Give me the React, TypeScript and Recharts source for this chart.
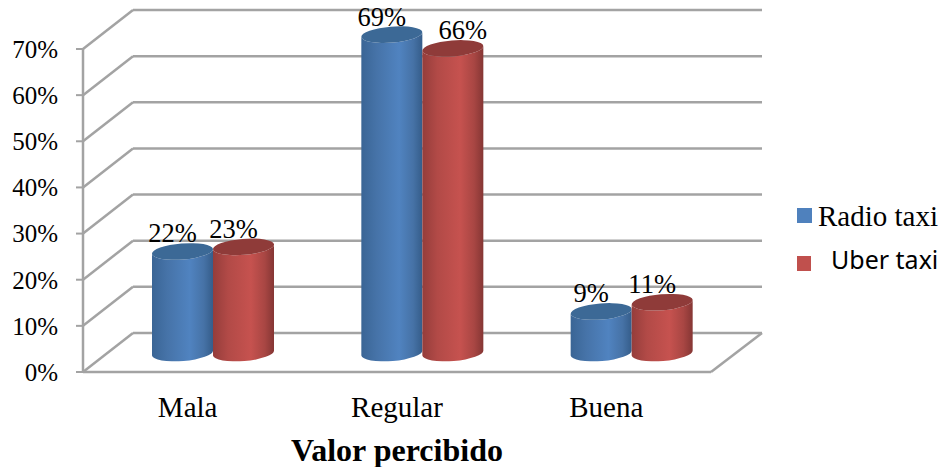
import { Bar, BarChart, CartesianGrid, LabelList, Legend, XAxis, YAxis } from "recharts"

const categories = ["Mala", "Regular", "Buena"]
const radioTaxi = [22, 69, 9]
const uberTaxi = [23, 66, 11]
const yTicks = [0, 10, 20, 30, 40, 50, 60, 70]

const data = categories.map((name, i) => ({ name, radio: radioTaxi[i], uber: uberTaxi[i] }))

const SERIF = "'Liberation Serif', serif"
const GRID = "#a3a3a3"

// fake 3d: everything stands on the middle of the floor, back wall is further up and right
const WALL_DX = 50
const WALL_DY = 39
const BAR_DX = 25
const BAR_DY = 19
const RY = 8
const TILT = 2.5

function gridLine(props: any) {
  const { x1, x2, y1 } = props
  const backY = y1 - WALL_DY
  return (
    <g key={props.key ?? y1}>
      <line x1={x1} y1={y1} x2={x1 + WALL_DX} y2={backY} stroke={GRID} strokeWidth={2.5} />
      <line x1={x1 + WALL_DX} y1={backY} x2={x2 + WALL_DX + 1} y2={backY} stroke={GRID} strokeWidth={2.5} />
      {y1 > 370 && (
        <line x1={x2} y1={y1} x2={x2 + WALL_DX + 1} y2={backY} stroke={GRID} strokeWidth={2.5} />
      )}
    </g>
  )
}

function Cylinder(props: any) {
  const { x, y, width, height, dataKey } = props
  const rx = width / 2
  const left = x + BAR_DX
  const right = left + width
  const top = y - BAR_DY
  const bottom = y + height - BAR_DY
  const rot = -4.5
  const body = `M${left},${top + TILT} L${left},${bottom + TILT} A${rx},${RY} ${rot} 0 0 ${right},${bottom - TILT} L${right},${top - TILT} A${rx},${RY} ${rot} 0 1 ${left},${top + TILT} Z`
  const lid = `M${left},${top + TILT} A${rx},${RY} ${rot} 1 1 ${right},${top - TILT} A${rx},${RY} ${rot} 1 1 ${left},${top + TILT} Z`
  return (
    <g>
      <path d={body} fill={`url(#body-${dataKey})`} />
      <path d={lid} fill={dataKey === "radio" ? "#3c6996" : "#8f3b39"} />
    </g>
  )
}

function ValueLabel(props: any) {
  const { x, y, width, value } = props
  // the 66% label sits to the right of its bar in the original
  const dx = value === 66 ? 10 : -10
  return (
    <text
      x={x + BAR_DX + width / 2 + dx}
      y={y - BAR_DY - 18}
      textAnchor="middle"
      dominantBaseline="central"
      fontFamily={SERIF}
      fontSize={26.5}
      fill="#000"
    >
      {value}%
    </text>
  )
}

function LegendBox({ payload }: any) {
  return (
    <div style={{ position: "relative", width: 944, height: 467, pointerEvents: "none" }}>
      {(payload || []).map((item: any, i: number) => (
        <div key={item.value}>
          <div
            style={{
              position: "absolute",
              left: 797,
              top: i === 0 ? 208 : 256,
              width: i === 0 ? 15 : 14,
              height: 15,
              background: item.color,
            }}
          />
          <div
            style={{
              position: "absolute",
              left: i === 0 ? 818 : 831,
              top: i === 0 ? 199 : 242,
              lineHeight: "34px",
              whiteSpace: "nowrap",
              color: "#000",
              fontFamily: i === 0 ? SERIF : "'Noto Sans', sans-serif",
              fontSize: i === 0 ? 29 : 25,
            }}
          >
            {item.value}
          </div>
        </div>
      ))}
    </div>
  )
}

export default function App() {
  return (
    <div style={{ position: "absolute", left: 0, top: 0, width: 944, height: 467, background: "#fff" }}>
      <BarChart
        width={944}
        height={467}
        data={data}
        margin={{ top: 49, right: 233, bottom: 0, left: 0 }}
        barSize={61}
        barGap={0}
        style={{ overflow: "visible" }}
      >
        <defs>
          <linearGradient id="body-radio" x1="0" y1="0" x2="1" y2="0">
            <stop offset="0%" stopColor="#3a6595" />
            <stop offset="25%" stopColor="#4673a8" />
            <stop offset="62%" stopColor="#5083c0" />
            <stop offset="85%" stopColor="#4672a6" />
            <stop offset="100%" stopColor="#355d8a" />
          </linearGradient>
          <linearGradient id="body-uber" x1="0" y1="0" x2="1" y2="0">
            <stop offset="0%" stopColor="#953d3b" />
            <stop offset="25%" stopColor="#b24a47" />
            <stop offset="62%" stopColor="#c6524f" />
            <stop offset="85%" stopColor="#a84643" />
            <stop offset="100%" stopColor="#853634" />
          </linearGradient>
        </defs>
        <CartesianGrid vertical={false} horizontal={gridLine} />
        <XAxis
          dataKey="name"
          height={95}
          axisLine={{ stroke: GRID, strokeWidth: 2.5 }}
          tickLine={false}
          tickMargin={18}
          tick={{ fill: "#000", fontSize: 29, fontFamily: SERIF }}
          label={{
            value: "Valor percibido",
            position: "insideBottom",
            offset: 6,
            fill: "#000",
            fontSize: 32,
            fontWeight: "bold",
            fontFamily: SERIF,
          }}
        />
        <YAxis
          width={83}
          domain={[0, 70]}
          ticks={yTicks}
          tickFormatter={(v: number) => `${v}%`}
          axisLine={{ stroke: GRID, strokeWidth: 2.5 }}
          tickLine={{ stroke: GRID, strokeWidth: 2 }}
          tickSize={7}
          tickMargin={18}
          tick={{ fill: "#000", fontSize: 25, fontFamily: SERIF }}
        />
        <Legend
          layout="horizontal"
          verticalAlign="middle"
          content={<LegendBox />}
          wrapperStyle={{ position: "absolute", left: 0, top: 0, width: 944, height: 467 }}
        />
        <Bar dataKey="radio" name="Radio taxi" fill="#4f81bd" shape={<Cylinder />} isAnimationActive={false}>
          <LabelList dataKey="radio" content={<ValueLabel />} />
        </Bar>
        <Bar dataKey="uber" name="Uber taxi" fill="#c0504d" shape={<Cylinder />} isAnimationActive={false}>
          <LabelList dataKey="uber" content={<ValueLabel />} />
        </Bar>
      </BarChart>
    </div>
  )
}
